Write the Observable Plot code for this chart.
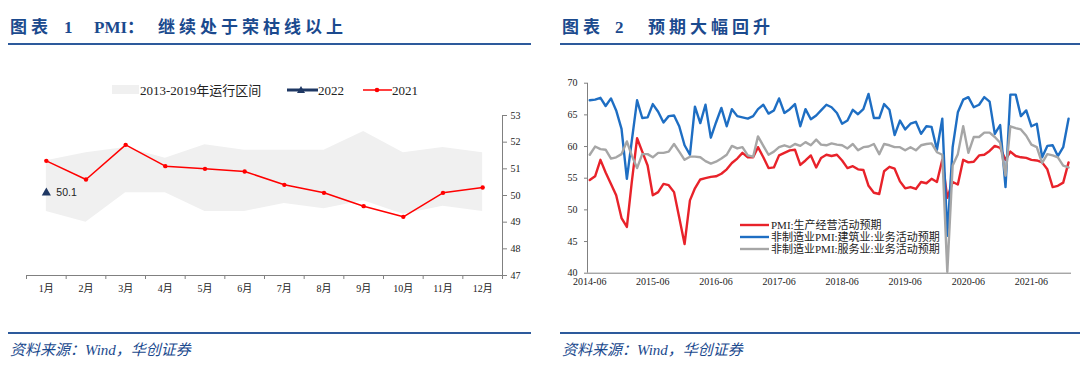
<!DOCTYPE html>
<html><head><meta charset="utf-8">
<script src="https://cdn.jsdelivr.net/npm/d3@7"></script>
<script src="https://cdn.jsdelivr.net/npm/@observablehq/plot@0.6"></script>
<style>
body{margin:0;background:#fff;}
#page{position:relative;width:1080px;height:375px;overflow:hidden;font-family:"Liberation Serif","Noto Sans CJK SC",serif;}
.t{position:absolute;top:18px;line-height:20px;font-weight:bold;color:#1B4A8E;font-size:17px;white-space:nowrap;}
.rule{position:absolute;height:2px;background:#2D5A9C;}
.src{position:absolute;top:340px;line-height:20px;font-style:italic;color:#1B4A8E;font-size:15px;white-space:nowrap;}
.lg{position:absolute;white-space:nowrap;color:#222;}
.lg svg{position:absolute;}
#left,#right{position:absolute;}
</style></head>
<body><div id="page">
  <div class="t" style="left:10px;letter-spacing:4px">图表</div>
  <div class="t" style="left:64px">1</div>
  <div class="t" style="left:94px">PMI：</div>
  <div class="t" style="left:158px;letter-spacing:4px">继续处于荣枯线以上</div>
  <div class="rule" style="left:8px;width:523px;top:43px"></div>

  <div class="t" style="left:562px;letter-spacing:4px">图表</div>
  <div class="t" style="left:615px">2</div>
  <div class="t" style="left:648px;letter-spacing:4px">预期大幅回升</div>
  <div class="rule" style="left:560px;width:520px;top:43px"></div>

  <div id="left" style="left:0px;top:100px"></div>
  <div id="right" style="left:540px;top:60px"></div>

  <div id="leftLegend"></div>
  <div id="rightLegend"></div>

  <div class="rule" style="left:8px;width:523px;top:332px"></div>
  <div class="rule" style="left:560px;width:520px;top:332px"></div>
  <div class="src" style="left:10px">资料来源：Wind，华创证券</div>
  <div class="src" style="left:562px">资料来源：Wind，华创证券</div>
</div>
<script>
// ---------- Left chart data ----------
const months = [1,2,3,4,5,6,7,8,9,10,11,12];
const monthLabels = ["1月","2月","3月","4月","5月","6月","7月","8月","9月","10月","11月","12月"];
const range2013_2019Low  = [49.4,49.0,50.1,50.1,49.4,49.4,49.7,49.5,49.8,49.3,49.6,49.4];
const range2013_2019High = [51.3,51.6,51.8,51.4,51.9,51.7,51.7,51.7,52.4,51.6,51.8,51.6];
const pmi2021 = [51.3,50.6,51.9,51.1,51.0,50.9,50.4,50.1,49.6,49.2,50.1,50.3];
const pmi2022 = [50.1];
const leftYTicks = [47,48,49,50,51,52,53];
const leftLegendLabels = ["2013-2019年运行区间","2022","2021"];

// ---------- Right chart data (monthly, 2014-06 .. 2022-01) ----------
const firstMonth = "2014-06";
const lastMonth = "2022-01";
const mfgExpect = [54.7,55.3,57.9,55.9,54.1,52.3,48.7,47.3,54.3,61.3,59.2,57.0,52.3,52.8,54.1,53.9,52.8,48.8,44.6,51.5,53.4,54.8,55.0,55.2,55.3,55.7,56.4,57.4,58.1,59.0,58.3,58.3,59.9,58.3,56.6,56.7,58.6,59.0,59.4,59.5,57.1,57.8,58.6,56.7,58.2,58.7,58.5,58.7,57.8,56.6,56.9,56.4,56.3,53.8,52.7,52.5,56.1,56.8,56.5,54.5,53.4,53.6,53.3,54.4,54.2,54.9,54.4,57.9,51.9,54.4,54.0,57.9,57.5,57.6,58.6,58.7,59.3,60.1,59.8,57.9,59.2,58.5,58.3,58.2,57.9,57.8,57.5,56.4,53.6,53.8,54.3,57.5];
const constructionExpect = [67.3,67.4,67.7,66.4,67.6,65.7,62.8,54.9,60.8,67.3,64.5,64.6,66.7,65.5,63.8,64.8,64.9,63.2,60.2,58.7,66.3,63.7,66.6,61.4,63.8,66.1,63.2,65.9,64.8,64.6,64.4,64.8,65.9,66.6,65.2,65.7,67.6,65.3,65.9,66.7,63.2,65.9,64.3,64.9,65.7,66.6,66.2,65.3,63.6,64.1,65.8,65.1,65.9,68.3,64.5,64.5,66.7,65.8,61.8,64.1,62.7,63.6,63.9,62.0,63.2,63.1,59.5,64.4,45.9,59.9,65.4,67.4,67.8,66.2,66.6,67.8,67.1,62.0,63.4,53.6,68.2,68.2,64.8,65.7,63.2,63.6,58.3,60.1,60.2,58.5,59.9,64.4];
const servicesExpect = [58.7,60.0,59.6,59.5,58.1,58.3,58.8,60.8,58.6,56.6,58.8,58.8,58.3,59.0,59.0,59.2,60.4,59.2,57.9,58.4,58.4,58.3,57.7,57.3,57.6,58.1,58.7,60.1,59.7,59.9,58.6,58.4,61.6,60.1,58.7,59.2,59.9,60.2,59.9,60.4,60.1,60.7,60.2,61.1,60.3,60.2,60.5,60.3,60.2,59.7,60.4,59.4,59.9,60.0,60.4,58.8,60.4,60.2,59.9,59.9,59.4,59.9,59.4,60.2,60.4,60.5,59.1,58.7,40.2,57.0,58.8,63.2,59.0,61.5,61.5,62.2,62.2,61.5,60.6,55.4,63.2,62.9,62.7,61.7,60.3,59.9,57.4,58.8,58.6,58.3,57.0,56.7];
const seriesNames = ["PMI:生产经营活动预期","非制造业PMI:建筑业:业务活动预期","非制造业PMI:服务业:业务活动预期"];
const seriesColors = ["#E8222A","#1E6EC3","#A6A6A6"];
const rightXTickLabels = ["2014-06","2015-06","2016-06","2017-06","2018-06","2019-06","2020-06","2021-06"];
const rightYTicks = [40,45,50,55,60,65,70];

// ---------- Build left chart ----------
const leftRows = months.map((m,i)=>({m, lo:range2013_2019Low[i], hi:range2013_2019High[i], v:pmi2021[i]}));
const rows2022 = pmi2022.map((v,i)=>({m:months[i], v}));
const catEdges = [0.5, ...months.map(m=>m+0.5)];
const axisFont = '"Liberation Serif","Noto Sans CJK SC",serif';

const left = Plot.plot({
  width:540, height:200,
  marginLeft:26, marginRight:38, marginTop:15, marginBottom:25,
  style:{fontFamily:axisFont, fontSize:"10px", color:"#333", background:"transparent", overflow:"visible"},
  x:{type:"linear", domain:[catEdges[0], catEdges[catEdges.length-1]], label:null},
  y:{domain:[leftYTicks[0], leftYTicks[leftYTicks.length-1]], label:null},
  marks:[
    Plot.areaY(leftRows,{x:"m", y1:"lo", y2:"hi", fill:"#F0F0F0"}),
    Plot.ruleY([leftYTicks[0]],{stroke:"#808080"}),
    Plot.ruleX([catEdges[catEdges.length-1]],{stroke:"#808080"}),
    Plot.axisX({ticks:catEdges, tickSize:4, tickFormat:()=>"", stroke:"#808080", label:null}),
    Plot.axisX({ticks:months, tickSize:0, tickPadding:9, tickFormat:d=>monthLabels[d-1], label:null, fill:"#222"}),
    Plot.axisY({anchor:"right", ticks:leftYTicks, tickSize:4, tickPadding:4, tickFormat:d=>String(d), stroke:"#808080", label:null, fill:"#222"}),
    Plot.line(leftRows,{x:"m", y:"v", stroke:"#FF0000", strokeWidth:1.5}),
    Plot.dot(leftRows,{x:"m", y:"v", fill:"#FF0000", r:2.2}),
    Plot.dot(rows2022,{x:"m", y:"v", symbol:"triangle", fill:"#1F3864", r:3.4}),
    Plot.text(rows2022,{x:"m", y:"v", text:d=>d.v.toFixed(1), dx:10, textAnchor:"start", fontSize:10.5, fontFamily:"Liberation Sans, Arial, sans-serif", fill:"#222"})
  ]
});
document.getElementById("left").appendChild(left);

// ---------- Build right chart ----------
const startDate = d3.utcParse("%Y-%m")(firstMonth);
const endDate = d3.utcParse("%Y-%m")(lastMonth);
const monthEnds = d3.utcMonth.range(startDate, d3.utcMonth.offset(endDate,1)).map(d=>d3.utcDay.offset(d3.utcMonth.offset(d,1),-1));
const allSeries = [mfgExpect, constructionExpect, servicesExpect];
const rightRows = allSeries.flatMap((vals,s)=>vals.map((v,i)=>({date:monthEnds[i], v, s:seriesNames[s]})));
const tickDates = monthEnds.filter(d=>rightXTickLabels.includes(d3.utcFormat("%Y-%m")(d)));

const right = Plot.plot({
  width:540, height:240,
  marginLeft:47, marginRight:9, marginTop:22.7, marginBottom:27.3,
  style:{fontFamily:axisFont, fontSize:"10px", color:"#333", background:"transparent", overflow:"visible"},
  x:{type:"utc", domain:[d3.utcDay.offset(monthEnds[0],-13), d3.utcDay.offset(monthEnds[monthEnds.length-1],17)], label:null},
  y:{domain:[rightYTicks[0], rightYTicks[rightYTicks.length-1]], label:null},
  color:{domain:seriesNames, range:seriesColors},
  marks:[
    Plot.ruleY([rightYTicks[0]],{stroke:"#808080"}),
    Plot.ruleX([d3.utcDay.offset(monthEnds[0],-13)],{stroke:"#808080"}),
    Plot.axisY({anchor:"left", ticks:rightYTicks, tickSize:3, tickPadding:7, tickFormat:d=>String(d), stroke:"#808080", label:null, fill:"#222"}),
    Plot.axisX({ticks:tickDates, tickSize:0, tickPadding:5, tickFormat:d=>rightXTickLabels[tickDates.findIndex(t=>+t===+d)], label:null, fill:"#222"}),
    Plot.line(rightRows,{x:"date", y:"v", z:"s", stroke:"s", strokeWidth:2.4, strokeLinejoin:"round"})
  ]
});
document.getElementById("right").appendChild(right);

// ---------- Legends (HTML) ----------
const ll = document.getElementById("leftLegend");
ll.innerHTML = `
 <div class="lg" style="left:112px;top:84px;font-size:13px;line-height:13px;">
   <svg width="27" height="10" style="left:0;top:1px"><rect width="27" height="9" fill="#F0F0F0"/></svg>
   <span style="position:absolute;left:28px;top:0">${leftLegendLabels[0]}</span>
   <svg width="31" height="12" style="left:175px;top:0"><line x1="0" y1="6" x2="31" y2="6" stroke="#1F3864" stroke-width="3"/><path d="M14,2 L18,9 L10,9Z" fill="#1F3864"/></svg>
   <span style="position:absolute;left:206px;top:0">${leftLegendLabels[1]}</span>
   <svg width="29" height="12" style="left:251px;top:0"><line x1="0" y1="6" x2="29" y2="6" stroke="#FF0000" stroke-width="1.5"/><circle cx="14" cy="6" r="2.3" fill="#FF0000"/></svg>
   <span style="position:absolute;left:280px;top:0">${leftLegendLabels[2]}</span>
 </div>`;
const rl = document.getElementById("rightLegend");
rl.innerHTML = seriesNames.map((n,i)=>`
 <div class="lg" style="left:740px;top:${219+i*12}px;font-size:11px;line-height:12px;">
   <svg width="29" height="12" style="left:0;top:0"><line x1="0" y1="6" x2="29" y2="6" stroke="${seriesColors[i]}" stroke-width="2.4"/></svg>
   <span style="position:absolute;left:31px;top:0">${n}</span>
 </div>`).join("");
</script>
</body></html>
